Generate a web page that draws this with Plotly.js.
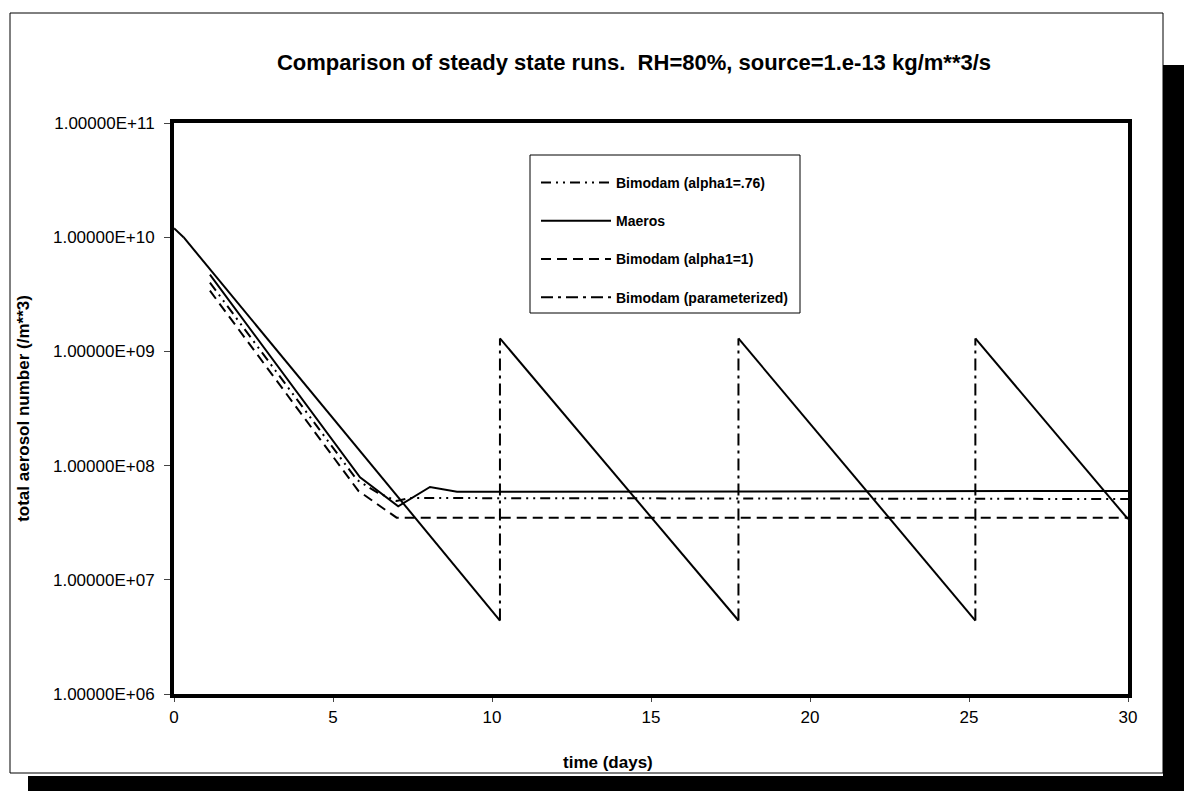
<!DOCTYPE html>
<html>
<head>
<meta charset="utf-8">
<script src="https://cdn.plot.ly/plotly-3.0.1.min.js"></script>
<style>
html,body{margin:0;padding:0;background:#fff;}
#chart{width:1197px;height:791px;}
</style>
</head>
<body>
<div id="chart"></div>
<script>
// ---- data ----
const alpha076Days = [1.13, 5.75, 6.4, 7.0, 7.4, 30];
const alpha076Vals = [4.0e9, 7.5e7, 5.8e7, 4.9e7, 5.2e7, 5.1e7];

const maerosDays = [1.13, 5.85, 7.05, 8.05, 8.9, 30];
const maerosVals = [4.7e9, 7.9e7, 4.4e7, 6.5e7, 5.9e7, 6.0e7];

const alpha1Days = [1.13, 5.8, 7.0, 30];
const alpha1Vals = [3.4e9, 6.0e7, 3.5e7, 3.5e7];

const paramDays = [0, 0.3, 10.25, 10.25, 17.75, 17.75, 25.2, 25.2, 30];
const paramVals = [1.2e10, 1.0e10, 4.4e6, 1.3e9, 4.4e6, 1.3e9, 4.4e6, 1.3e9, 3.4e7];

const seriesNames = ["Bimodam (alpha1=.76)", "Maeros", "Bimodam (alpha1=1)", "Bimodam (parameterized)"];

const yTickVals = [1e6, 1e7, 1e8, 1e9, 1e10, 1e11];
const yTickText = ["1.00000E+06", "1.00000E+07", "1.00000E+08", "1.00000E+09", "1.00000E+10", "1.00000E+11"];
const xTickVals = [0, 5, 10, 15, 20, 25, 30];

// ---- split the parameterized series into sloping parts (solid) and jumps (dash-dot) ----
const slopeX = [], slopeY = [], jumpX = [], jumpY = [];
for (let i = 1; i < paramDays.length; i++) {
  const isJump = paramDays[i] === paramDays[i - 1];
  const tx = isJump ? jumpX : slopeX, ty = isJump ? jumpY : slopeY;
  if (tx.length) { tx.push(null); ty.push(null); }
  tx.push(paramDays[i - 1], paramDays[i]);
  ty.push(paramVals[i - 1], paramVals[i]);
}

const FONT = "Liberation Sans, Arial, sans-serif";
const lw = 2;
const traces = [
  {x: alpha076Days, y: alpha076Vals, name: seriesNames[0], legendgroup: "a",
   line: {color: "#000", width: lw, dash: "10px,5px,2px,5px,2px,5px"}},
  {x: maerosDays, y: maerosVals, name: seriesNames[1], legendgroup: "b",
   line: {color: "#000", width: lw}},
  {x: alpha1Days, y: alpha1Vals, name: seriesNames[2], legendgroup: "c",
   line: {color: "#000", width: lw, dash: "10px,6px"}},
  {x: jumpX, y: jumpY, name: seriesNames[3], legendgroup: "d",
   line: {color: "#000", width: lw, dash: "12px,5px,3px,5px"}},
  {x: slopeX, y: slopeY, name: seriesNames[3], legendgroup: "d", showlegend: false,
   line: {color: "#000", width: lw}}
].map(t => Object.assign({type: "scatter", mode: "lines", hoverinfo: "x+y", connectgaps: false}, t));

// ---- pixel -> paper helpers for decoration placement ----
const L = 174, R = 1128, T = 123, B = 694, W = 1197, H = 791;
const px = v => (v - L) / (R - L);
const py = v => (B - v) / (B - T);

const layout = {
  width: W, height: H,
  margin: {l: L, r: W - R, t: T, b: H - B, pad: 0},
  paper_bgcolor: "#fff", plot_bgcolor: "#fff",
  font: {family: FONT, color: "#000", size: 16},
  title: {text: "Comparison of steady state runs.\u00A0\u00A0RH=80%, source=1.e-13 kg/m**3/s",
          font: {family: FONT, size: 22, weight: "bold", color: "#000"},
          xref: "paper", x: px(634), xanchor: "center", yref: "container", y: 1 - 62 / H, yanchor: "middle"},
  xaxis: {range: [0, 30], tickvals: xTickVals, ticks: "outside", ticklen: 4, tickwidth: 1,
          showline: true, linewidth: 4, linecolor: "#000", mirror: true, showgrid: false, zeroline: false,
          tickfont: {family: FONT, size: 17}, ticklabelstandoff: 1},
  yaxis: {type: "log", range: [6, 11], tickvals: yTickVals, ticktext: yTickText, ticks: "outside",
          ticklen: 6, tickwidth: 1, showline: true, linewidth: 4, linecolor: "#000", mirror: true,
          showgrid: false, zeroline: false, tickfont: {family: FONT, size: 17}, ticklabelstandoff: 6,
          title: {text: "total aerosol number (/m**3)", font: {family: FONT, size: 17, weight: "bold"}, standoff: 20}},
  showlegend: true,
  legend: {x: px(536), y: py(167), xanchor: "left", yanchor: "top", bgcolor: "rgba(0,0,0,0)",
           borderwidth: 0, traceorder: "grouped", tracegroupgap: 17, itemwidth: 70,
           font: {family: FONT, size: 14, weight: "bold"}},
  annotations: [
    {text: "time (days)", xref: "paper", yref: "paper", x: px(608), y: py(762), xanchor: "center", yanchor: "middle",
     showarrow: false, font: {family: FONT, size: 17, weight: "bold"}}
  ],
  shapes: [
    // legend box
    {type: "rect", xref: "paper", yref: "paper", x0: px(530), x1: px(800), y0: py(313), y1: py(155),
     line: {color: "#000", width: 1}, fillcolor: "rgba(0,0,0,0)", layer: "above"},
    // outer frame
    {type: "rect", xref: "paper", yref: "paper", x0: px(10), x1: px(1163), y0: py(773), y1: py(13),
     line: {color: "#000", width: 1}, fillcolor: "rgba(0,0,0,0)", layer: "below"},
    // shadow right
    {type: "rect", xref: "paper", yref: "paper", x0: px(1163), x1: px(1184), y0: py(791), y1: py(65),
     line: {width: 0}, fillcolor: "#000", layer: "below"},
    // shadow bottom
    {type: "rect", xref: "paper", yref: "paper", x0: px(28), x1: px(1184), y0: py(791), y1: py(776),
     line: {width: 0}, fillcolor: "#000", layer: "below"}
  ]
};

Plotly.newPlot("chart", traces, layout, {displayModeBar: false, responsive: false});
</script>
</body>
</html>
